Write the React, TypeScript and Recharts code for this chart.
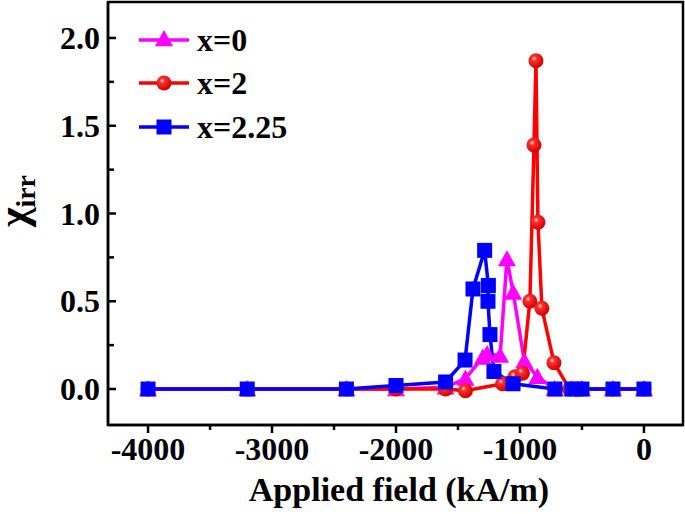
import React from "react";
import { LineChart, Line, XAxis, YAxis, ReferenceArea } from "recharts";

const FIELD_X0 = [-4000, -3200, -2400, -2000, -1600, -1440, -1300, -1265, -1160, -1105, -1055, -965, -860, -720, -580, -500, -250, 0];
const CHI_X0 = [0, 0, 0, 0, 0.01, 0.06, 0.18, 0.2, 0.19, 0.74, 0.55, 0.16, 0.07, 0, 0, 0, 0, 0];

const FIELD_X2 = [-4000, -3200, -2400, -2000, -1600, -1440, -1140, -1040, -980, -920, -887, -871, -855, -823, -726, -600, -500, -250, 0];
const CHI_X2 = [0, 0, 0, 0, 0, -0.01, 0.03, 0.07, 0.09, 0.5, 1.39, 1.87, 0.95, 0.46, 0.15, 0, 0, 0, 0];

const FIELD_X225 = [-4000, -3200, -2400, -2000, -1600, -1443, -1379, -1285, -1255, -1258, -1242, -1210, -1056, -718, -580, -500, -250, 0];
const CHI_X225 = [0, 0, 0, 0.02, 0.04, 0.165, 0.57, 0.79, 0.59, 0.5, 0.31, 0.1, 0.03, 0, 0, 0, 0, 0];

const SERIES_NAMES = ["x=0", "x=2", "x=2.25"];
const SERIES_COLORS = ["#FF00FF", "#FF0000", "#0000FF"];

const X_TICKS = [-4000, -3500, -3000, -2500, -2000, -1500, -1000, -500, 0];
const Y_TICKS = [0, 0.25, 0.5, 0.75, 1, 1.25, 1.5, 1.75, 2];
const X_DOMAIN = [-4323, 315];
const Y_DOMAIN = [-0.205, 2.205];

const X_TITLE = "Applied field (kA/m)";
const Y_TITLE_MAIN = "χ";
const Y_TITLE_SUB = "irr";

const FONT = "'Liberation Serif', 'Times New Roman', serif";

const toRows = (xs: number[], ys: number[]) => xs.map((x, i) => ({ x, y: ys[i] }));
const DATA = [toRows(FIELD_X0, CHI_X0), toRows(FIELD_X2, CHI_X2), toRows(FIELD_X225, CHI_X225)];

const Triangle = ({ cx, cy, color, s = 9 }: any) => (
  <polygon
    points={`${cx},${cy - s} ${cx - s},${cy + s * 0.8} ${cx + s},${cy + s * 0.8}`}
    fill={color}
  />
);
const Square = ({ cx, cy, color, s = 7.5 }: any) => (
  <rect x={cx - s} y={cy - s} width={2 * s} height={2 * s} fill={color} />
);
const Ball = ({ cx, cy, gid, r = 7.5 }: any) => <circle cx={cx} cy={cy} r={r} fill={`url(#${gid})`} />;

const makeDot = (kind: number, gid: string) => (props: any) => {
  const { cx, cy, index } = props;
  if (cx == null || cy == null) return <g key={index} />;
  if (kind === 0) return <Triangle key={index} cx={cx} cy={cy} color={SERIES_COLORS[0]} />;
  if (kind === 1) return <Ball key={index} cx={cx} cy={cy} gid={gid} />;
  return <Square key={index} cx={cx} cy={cy} color={SERIES_COLORS[2]} />;
};

const XTick = (props: any) => {
  const { x, y, payload } = props;
  const major = payload.value % 1000 === 0;
  return (
    <g>
      <line x1={x} x2={x} y1={y} y2={y + (major ? 8 : 5)} stroke="#000" strokeWidth={2.5} />
      {major && (
        <text x={x} y={y + 35} textAnchor="middle" fontFamily={FONT} fontWeight="bold" fontSize={32} fill="#000">
          {String(payload.value)}
        </text>
      )}
    </g>
  );
};

const YTick = (props: any) => {
  const { x, y, payload } = props;
  const major = Math.abs(payload.value * 2 - Math.round(payload.value * 2)) < 1e-6;
  return (
    <g>
      <line x1={x} x2={x + (major ? 8 : 6)} y1={y} y2={y} stroke="#000" strokeWidth={2.5} />
      {major && (
        <text x={x - 8} y={y + 11} textAnchor="end" fontFamily={FONT} fontWeight="bold" fontSize={32} fill="#000">
          {payload.value.toFixed(1)}
        </text>
      )}
    </g>
  );
};

const GradDefs = ({ id }: { id: string }) => (
  <defs>
    <radialGradient id={id} cx="38%" cy="35%" r="65%">
      <stop offset="0%" stopColor="#ffe0e0" />
      <stop offset="25%" stopColor="#ff3030" />
      <stop offset="100%" stopColor="#d00000" />
    </radialGradient>
  </defs>
);

export default function App() {
  const legendRows = [40, 83, 127];
  return (
    <div style={{ position: "absolute", left: 0, top: 0, width: 685, height: 514, background: "#fff" }}>
      <LineChart width={685} height={514} data={DATA[0]} margin={{ top: 2, right: 2, bottom: 0, left: 0 }}>
        <GradDefs id="ballGrad" />
        <XAxis
          dataKey="x"
          type="number"
          domain={X_DOMAIN}
          ticks={X_TICKS}
          allowDataOverflow
          height={89}
          tickSize={0}
          tickMargin={0}
          tickLine={false}
          axisLine={{ stroke: "#000", strokeWidth: 2.5 }}
          tick={<XTick />}
          interval={0}
        />
        <YAxis
          dataKey="y"
          type="number"
          domain={Y_DOMAIN}
          ticks={Y_TICKS}
          allowDataOverflow
          width={108}
          tickSize={0}
          tickMargin={0}
          tickLine={false}
          axisLine={{ stroke: "#000", strokeWidth: 2.5 }}
          tick={<YTick />}
          interval={0}
        />
        <ReferenceArea
          x1={X_DOMAIN[0]}
          x2={X_DOMAIN[1]}
          y1={Y_DOMAIN[0]}
          y2={Y_DOMAIN[1]}
          fill="none"
          fillOpacity={0}
          stroke="#000"
          strokeWidth={2.5}
          ifOverflow="visible"
        />
        {DATA.map((rows, k) => (
          <Line
            key={k}
            data={rows}
            dataKey="y"
            name={SERIES_NAMES[k]}
            stroke={SERIES_COLORS[k]}
            strokeWidth={3.5}
            dot={makeDot(k, "ballGrad")}
            activeDot={false}
            isAnimationActive={false}
          />
        ))}
      </LineChart>
      <svg
        width={685}
        height={514}
        style={{ position: "absolute", left: 0, top: 0, pointerEvents: "none" }}
      >
        <GradDefs id="ballGradLegend" />
        {SERIES_NAMES.map((name, k) => {
          const cy = legendRows[k];
          return (
            <g key={name}>
              <line x1={139} x2={189} y1={cy} y2={cy} stroke={SERIES_COLORS[k]} strokeWidth={3.5} />
              {k === 0 && <Triangle cx={164} cy={cy - 1} color={SERIES_COLORS[0]} />}
              {k === 1 && <Ball cx={164} cy={cy} gid="ballGradLegend" />}
              {k === 2 && <Square cx={164} cy={cy} color={SERIES_COLORS[2]} />}
              <text x={197} y={cy + 11} fontFamily={FONT} fontWeight="bold" fontSize={32} fill="#000">
                {name}
              </text>
            </g>
          );
        })}
        <text x={399} y={501} textAnchor="middle" fontFamily={FONT} fontWeight="bold" fontSize={34} fill="#000">
          {X_TITLE}
        </text>
        <text
          transform="translate(27,201) rotate(-90)"
          textAnchor="middle"
          fontFamily={FONT}
          fontWeight="bold"
          fill="#000"
        >
          <tspan fontSize={42}>{Y_TITLE_MAIN}</tspan>
          <tspan fontSize={28} dy={8}>{Y_TITLE_SUB}</tspan>
        </text>
      </svg>
    </div>
  );
}
